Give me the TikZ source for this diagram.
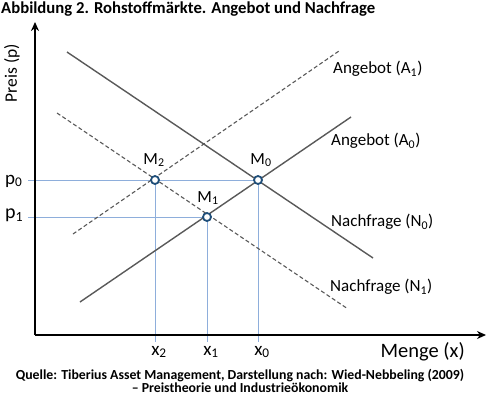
\documentclass[tikz,border=0pt]{standalone}
\usepackage{fontspec}
\setmainfont{Carlito}
\usetikzlibrary{arrows.meta}
\definecolor{curve}{HTML}{595959}
\definecolor{guide}{HTML}{8EAEDB}
\definecolor{mark}{HTML}{1F4E79}
\newcommand{\lowsub}[1]{\textsubscript{#1}}
\tikzset{
  curvesolid/.style={draw=curve, line width=1.4pt},
  curvedash/.style={draw=curve, line width=1.1pt, dash pattern=on 4pt off 2.5pt},
  guideline/.style={draw=guide, line width=1pt},
  axisline/.style={draw=black, line width=2.2pt, -{Stealth[length=9pt,width=8pt]}},
  pt/.style={circle, draw=mark, fill=white, line width=1.8pt, minimum size=8pt, inner sep=0pt},
  lbl/.style={font=\fontsize{17}{19}\selectfont, inner sep=0pt},
  cur/.style={font=\fontsize{17}{19}\selectfont, inner sep=0pt, anchor=west}
}
\begin{document}
\begin{tikzpicture}[x=1pt,y=-1pt]
\useasboundingbox (0,0) rectangle (489,396);
% title
\node[anchor=base west, inner sep=0pt, font=\bfseries\fontsize{16.7}{18}\selectfont] (title) at (1,14) {Abbildung 2. Rohstoffmärkte. Angebot und Nachfrage};
% axes
\coordinate (O) at (35,335);
\coordinate (ytip) at (35,22);
\coordinate (xtip) at (486,335);
% points
\coordinate (M2) at (155,180);
\coordinate (M0) at (258,180);
\coordinate (M1) at (207,217);
% curve ends
\coordinate (A0s) at (80,302);
\coordinate (A0e) at (351,117);
\coordinate (A1s) at (73,234);
\coordinate (A1e) at (339,51);
\coordinate (N0s) at (67,52);
\coordinate (N0e) at (373,258);
\coordinate (N1s) at (57,113);
\coordinate (N1e) at (348,309);
% guides
\coordinate (p0s) at (28,180);
\coordinate (p1s) at (28,217);
\coordinate (x2e) at (155,342);
\coordinate (x1e) at (207,342);
\coordinate (x0e) at (258,342);
\draw[guideline] (p0s) -- (M0);
\draw[guideline] (p1s) -- (M1);
\draw[guideline] (M2) -- (x2e);
\draw[guideline] (M1) -- (x1e);
\draw[guideline] (M0) -- (x0e);
% curves
\draw[curvesolid] (A0s) -- (A0e);
\draw[curvesolid] (N0s) -- (N0e);
\draw[curvedash] (A1s) -- (A1e);
\draw[curvedash] (N1s) -- (N1e);
% axes
\draw[axisline] (O) -- (ytip);
\draw[axisline] (O) -- (xtip);
% markers
\node[pt] (m2) at (M2) {};
\node[pt] (m0) at (M0) {};
\node[pt] (m1) at (M1) {};
% labels
\node[lbl] (lm2) at (154,160) {M\lowsub{2}};
\node[lbl] (lm0) at (261,160) {M\lowsub{0}};
\node[lbl] (lm1) at (208,198) {M\lowsub{1}};
\node[lbl, anchor=west, font=\fontsize{19}{21}\selectfont] (lp0) at (5,181) {p\lowsub{0}};
\node[lbl, anchor=west, font=\fontsize{20}{22}\selectfont] (lp1) at (5,215) {p\lowsub{1}};
\node[lbl, font=\fontsize{19}{21}\selectfont] (lx2) at (159,352) {x\lowsub{2}};
\node[lbl, font=\fontsize{19}{21}\selectfont] (lx1) at (211,352) {x\lowsub{1}};
\node[lbl, font=\fontsize{19}{21}\selectfont] (lx0) at (262,352) {x\lowsub{0}};
\node[lbl, anchor=east, font=\fontsize{20.5}{22}\selectfont] (lx) at (465,352) {Menge (x)};
\node[lbl, rotate=90, font=\fontsize{17.5}{19}\selectfont] (ly) at (12,73) {Preis (p)};
\node[cur] (la1) at (333,69) {Angebot (A\lowsub{1})};
\node[cur] (la0) at (331,141) {Angebot (A\lowsub{0})};
\node[cur] (ln0) at (331,222) {Nachfrage (N\lowsub{0})};
\node[cur] (ln1) at (330,287) {Nachfrage (N\lowsub{1})};
% source
\node[inner sep=0pt, anchor=north, font=\bfseries\fontsize{13.8}{13}\selectfont, align=center] (src) at (240,369) {Quelle: Tiberius Asset Management, Darstellung nach: Wied-Nebbeling (2009)\\– Preistheorie und Industrieökonomik};
\end{tikzpicture}
\end{document}
